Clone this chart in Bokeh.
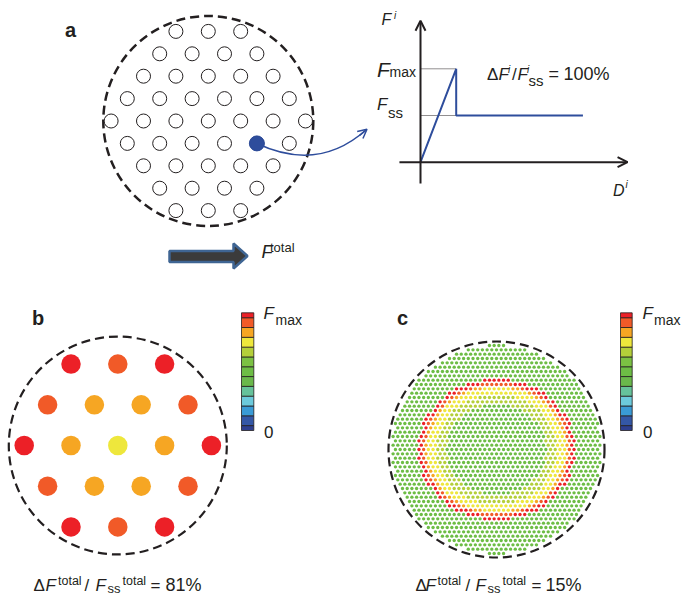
import numpy as np
from bokeh.plotting import figure
from bokeh.models import Range1d, Label, Arrow, OpenHead, LinearColorMapper, ColumnDataSource
from bokeh.embed import file_html
from bokeh.resources import INLINE

# ---------------- data ----------------
# colour scale: force level from 0 to Fmax in 12 steps
cb_levels = [i / 12 for i in range(13)]
cb_colors = ["#2e3f8f", "#3457a6", "#3a9bd6", "#6ccadc", "#66c29b", "#6ab84b",
             "#6dbd45", "#7bc143", "#b4cf3a", "#eee73c", "#f6a623", "#f15a28", "#ec2027"]

# panel a: fibres per row, and the loaded fibre (row, column)
a_row_counts = [3, 4, 5, 6, 7, 6, 5, 4, 3]
a_loaded = (5, 4)

# force-displacement law of one fibre
law_D = [0, 1, 1, 4.55]
law_F = [0, 2, 1, 1]
F_max = 2
F_ss = 1

# panel b: force level (fraction of Fmax) of every fibre, row by row
b_levels = [[1.00, 0.92, 1.00],
            [0.92, 0.83, 0.83, 0.92],
            [1.00, 0.83, 0.75, 0.83, 1.00],
            [0.92, 0.83, 0.83, 0.92],
            [1.00, 0.92, 1.00]]

# panel c: dense lattice (units of fibre spacing), specimen radius, loaded ring
c_radius = 22.25
c_row_step = 0.922
c_ring_rx = 16.2
c_ring_ry = 14.5
c_band_edges = [0.66, 0.80, 0.91, 0.945, 0.975, 1.035]
c_band_levels = [6 / 12, 8 / 12, 9 / 12, 10 / 12, 11 / 12, 12 / 12, 6 / 12]

# ---------------- figure ----------------
FONT = "Liberation Sans"
INK = "#231f20"
BLUE = "#2e4d9c"
X0, X1, Y0, Y1 = 0, 681, 0, 596

p = figure(width=X1 - X0, height=Y1 - Y0, x_range=Range1d(X0, X1), y_range=Range1d(Y1, Y0),
           output_backend="svg", toolbar_location=None, x_axis_type=None, y_axis_type=None,
           min_border=0, outline_line_color=None,
           background_fill_color="white", border_fill_color="white")

ex, ey = {}, {}


def space(name, ox, oy, sx, sy):
    ex[name] = Range1d((X0 - ox) / sx, (X1 - ox) / sx)
    ey[name] = Range1d((oy - Y1) / sy, (oy - Y0) / sy)


space("a", 207.8, 120.5, 32.4, 22.4)
space("g", 420, 161.7, 35.7, 46.7)
space("b", 117.3, 445, 46.8, 40.7)
space("c", 496, 449, 4.7, 4.7)
space("cb", 0, 430, 1, 117.7)
p.extra_x_ranges = ex
p.extra_y_ranges = ey

mapper = LinearColorMapper(palette=cb_colors, low=-1 / 24, high=1 + 1 / 24)

# ---------------- panel a ----------------
ax, ay = [], []
nrows = len(a_row_counts)
for r, n in enumerate(a_row_counts):
    for k in range(n):
        ax.append(k - (n - 1) / 2)
        ay.append((nrows - 1) / 2 - r)
lr, lk = a_loaded
lx = lk - (a_row_counts[lr] - 1) / 2
ly = (nrows - 1) / 2 - lr

p.scatter([0], [0], size=210, marker="circle", fill_color=None, line_color=INK,
          line_width=2.5, line_dash="9 5", x_range_name="a", y_range_name="a")
p.scatter(ax, ay, size=14, marker="circle", fill_color="white", line_color=INK,
          line_width=1, x_range_name="a", y_range_name="a")
p.quadratic(x0=[256.4], y0=[143], x1=[366], y1=[129], cx=[318], cy=[172],
            line_color=BLUE, line_width=1.5)
p.add_layout(Arrow(end=OpenHead(size=9, line_color=BLUE, line_width=1.5),
                   x_start=359, y_start=135, x_end=366.5, y_end=128.8,
                   line_color=BLUE, line_width=1.5))
p.scatter([lx], [ly], size=15, marker="circle", fill_color=BLUE, line_color=BLUE,
          x_range_name="a", y_range_name="a")

# force-displacement graph
p.segment(x0=[0, 0], y0=[F_max, F_ss], x1=[1, 1], y1=[F_max, F_ss], line_color=INK,
          line_width=1, line_dash="1 1", x_range_name="g", y_range_name="g")
p.add_layout(Arrow(end=OpenHead(size=10, line_color=INK, line_width=2),
                   x_start=0, y_start=-0.456, x_end=0, y_end=3.03, line_color=INK,
                   line_width=2, x_range_name="g", y_range_name="g"))
p.add_layout(Arrow(end=OpenHead(size=10, line_color=INK, line_width=2),
                   x_start=-0.59, y_start=0, x_end=5.8, y_end=0, line_color=INK,
                   line_width=2, x_range_name="g", y_range_name="g"))
p.line(law_D, law_F, line_color=BLUE, line_width=2, x_range_name="g", y_range_name="g")

# total force arrow
p.patch([169, 233, 233, 247, 233, 233, 169], [250.5, 250.5, 243, 255.5, 268, 261.5, 261.5],
        fill_color="#3b3b3b", line_color="#3f6593", line_width=2.5)

# ---------------- panel b ----------------
bx, by, bl = [], [], []
for r, row in enumerate(b_levels):
    for k, v in enumerate(row):
        bx.append(k - (len(row) - 1) / 2)
        by.append((len(b_levels) - 1) / 2 - r)
        bl.append(v)
p.scatter([0], [0], size=218, marker="circle", fill_color=None, line_color=INK,
          line_width=2.2, line_dash="9 5", x_range_name="b", y_range_name="b")
p.scatter("x", "y", source=ColumnDataSource(dict(x=bx, y=by, level=bl)), size=19.5,
          marker="circle", fill_color={"field": "level", "transform": mapper},
          line_color=None, x_range_name="b", y_range_name="b")

# ---------------- panel c ----------------
cx, cy = [], []
nr = int(c_radius / c_row_step) + 1
for j in range(-nr, nr + 1):
    off = 0.5 * (1 - (j % 2))
    for i in range(-int(c_radius) - 2, int(c_radius) + 2):
        x = i + off
        y = j * c_row_step
        if x * x + y * y <= c_radius ** 2:
            cx.append(x)
            cy.append(y)
cx = np.array(cx)
cy = np.array(cy)
d = np.sqrt((cx / c_ring_rx) ** 2 + (cy / c_ring_ry) ** 2)
cl = np.array(c_band_levels)[np.digitize(d, c_band_edges)]
p.scatter("x", "y", source=ColumnDataSource(dict(x=cx, y=cy, level=cl)), size=3.4,
          marker="circle", fill_color={"field": "level", "transform": mapper},
          line_color=None, x_range_name="c", y_range_name="c")
p.scatter([0], [0], size=216, marker="circle", fill_color=None, line_color=INK,
          line_width=2.2, line_dash="9 5", x_range_name="c", y_range_name="c")

# ---------------- colour bars ----------------
half = 1 / 24
cb_bottom = [max(0, v - half) for v in cb_levels]
cb_top = [min(1, v + half) for v in cb_levels]
for xl, xr in [(241, 253.3), (620, 631.7)]:
    p.quad(left=xl, right=xr, bottom="bottom", top="top",
           source=ColumnDataSource(dict(bottom=cb_bottom, top=cb_top, level=cb_levels)),
           fill_color={"field": "level", "transform": mapper}, line_color=INK,
           line_width=0.8, y_range_name="cb")

# ---------------- texts ----------------
labels = [
    ("a", 64.5, 37.5, 20, "bold"), ("b", 31.5, 325.5, 20, "bold"), ("c", 396.5, 325.5, 20, "bold"),
    ("F", 381, 25.5, 16, "italic"), ("i", 393.5, 18.5, 10, "italic"),
    ("F", 376.5, 77.5, 21, "italic"), ("max", 389, 77.5, 14, "normal"),
    ("F", 376.5, 111, 17, "italic"), ("ss", 387.5, 118, 15, "normal"),
    ("D", 612.5, 196, 16, "italic"), ("i", 625, 188, 10, "italic"),
    ("Δ", 486.5, 80.5, 17, "normal"), ("F", 498, 80.5, 17, "italic"), ("i", 507.5, 73, 10, "italic"),
    ("/", 511.5, 80.5, 17, "normal"), ("F", 517, 80.5, 17, "italic"), ("i", 526.5, 73, 10, "italic"),
    ("ss", 528, 85.5, 15, "normal"), ("=", 548, 80.5, 18, "normal"), ("100%", 563, 80.5, 18, "normal"),
    ("F", 261, 258.5, 18, "italic"), ("total", 269.5, 252.5, 13, "normal"),
    ("F", 263, 319.5, 17, "italic"), ("max", 275, 325.5, 14, "normal"), ("0", 263.5, 438, 17, "normal"),
    ("F", 642, 319.5, 17, "italic"), ("max", 653.5, 325.5, 14, "normal"), ("0", 642.5, 438, 17, "normal"),
]
for pct, xs in [("81%", [33, 45, 57.5, 84, 95, 107, 122, 150, 165]),
                ("15%", [415, 425, 437, 465, 475, 487, 502, 531, 545])]:
    labels += [
        ("Δ", xs[0], 592, 17, "normal"), ("F", xs[1], 592, 17, "italic"),
        ("total", xs[2], 585, 12.5, "normal"),
        ("/", xs[3], 592, 17, "normal"), ("F", xs[4], 592, 17, "italic"),
        ("ss", xs[5], 593.5, 13, "normal"), ("total", xs[6], 585, 12.5, "normal"),
        ("=", xs[7], 592, 17, "normal"), (pct, xs[8], 592, 18, "normal"),
    ]
BASE_SHIFT = 0.4  # Label draws its alphabetic baseline lower by about 0.4 em
for t, x, y, s, st in labels:
    p.add_layout(Label(x=x, y=y - BASE_SHIFT * s, text=t, text_font=FONT,
                       text_font_size=f"{s}px", text_font_style=st, text_color=INK,
                       text_baseline="alphabetic", text_align="left"))

open("out.html", "w").write(file_html(p, INLINE))
